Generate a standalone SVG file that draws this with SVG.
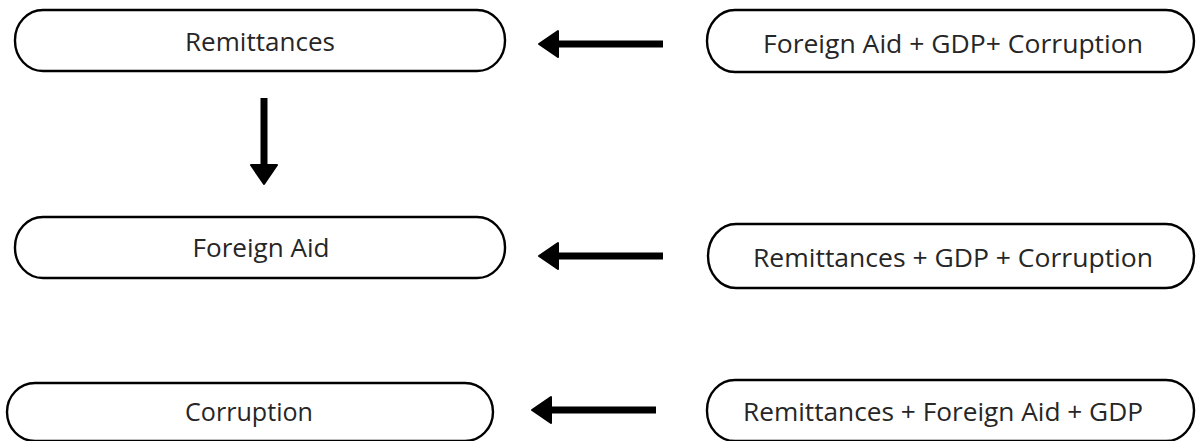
<svg xmlns="http://www.w3.org/2000/svg" width="1198" height="441" viewBox="0 0 1198 441">
  <style>
    .box { fill: #ffffff; stroke: #000000; stroke-width: 2.4; }
    .lbl { font-family: "Open Sans", "Noto Sans", "DejaVu Sans", sans-serif; font-size: 25px; fill: #262626; text-anchor: middle; dominant-baseline: central; }
    .conn { stroke: #000000; stroke-width: 7; fill: none; }
  </style>
  <defs>
    <marker id="head" markerUnits="userSpaceOnUse" markerWidth="24" markerHeight="30" viewBox="-2 -2 24 30" refX="0" refY="13" orient="auto">
      <path d="M0,0 L19,13 L0,26 Z" fill="#000000" stroke="#000000" stroke-width="2" stroke-linejoin="round"/>
    </marker>
  </defs>
  <rect width="1198" height="441" fill="#ffffff"/>

  <g id="node-remittances">
    <rect class="box" x="15" y="10" width="490" height="61" rx="28" ry="30"/>
    <text class="lbl" x="260" y="41" textLength="150" lengthAdjust="spacingAndGlyphs">Remittances</text>
  </g>
  <g id="node-fa-gdp-corr">
    <rect class="box" x="707" y="10" width="487" height="62" rx="28" ry="31"/>
    <text class="lbl" x="953" y="43" textLength="380" lengthAdjust="spacingAndGlyphs">Foreign Aid + GDP+ Corruption</text>
  </g>
  <g id="node-foreign-aid">
    <rect class="box" x="15" y="217" width="490" height="61" rx="28" ry="30"/>
    <text class="lbl" x="261" y="247" textLength="137" lengthAdjust="spacingAndGlyphs">Foreign Aid</text>
  </g>
  <g id="node-rem-gdp-corr">
    <rect class="box" x="708" y="224" width="486" height="64" rx="28" ry="32"/>
    <text class="lbl" x="953" y="257" textLength="400" lengthAdjust="spacingAndGlyphs">Remittances + GDP + Corruption</text>
  </g>
  <g id="node-corruption">
    <rect class="box" x="7" y="383" width="486" height="58" rx="28" ry="29"/>
    <text class="lbl" x="249" y="411" textLength="128" lengthAdjust="spacingAndGlyphs">Corruption</text>
  </g>
  <g id="node-rem-fa-gdp">
    <rect class="box" x="707" y="380" width="487" height="61" rx="28" ry="30"/>
    <text class="lbl" x="943" y="411" textLength="400" lengthAdjust="spacingAndGlyphs">Remittances + Foreign Aid + GDP</text>
  </g>

  <g id="connectors">
    <line class="conn" x1="663" y1="44" x2="558" y2="44" marker-end="url(#head)"/>
    <line class="conn" x1="264" y1="98" x2="264" y2="165" marker-end="url(#head)"/>
    <line class="conn" x1="663" y1="256" x2="558" y2="256" marker-end="url(#head)"/>
    <line class="conn" x1="656" y1="410" x2="551" y2="410" marker-end="url(#head)"/>
  </g>
</svg>
